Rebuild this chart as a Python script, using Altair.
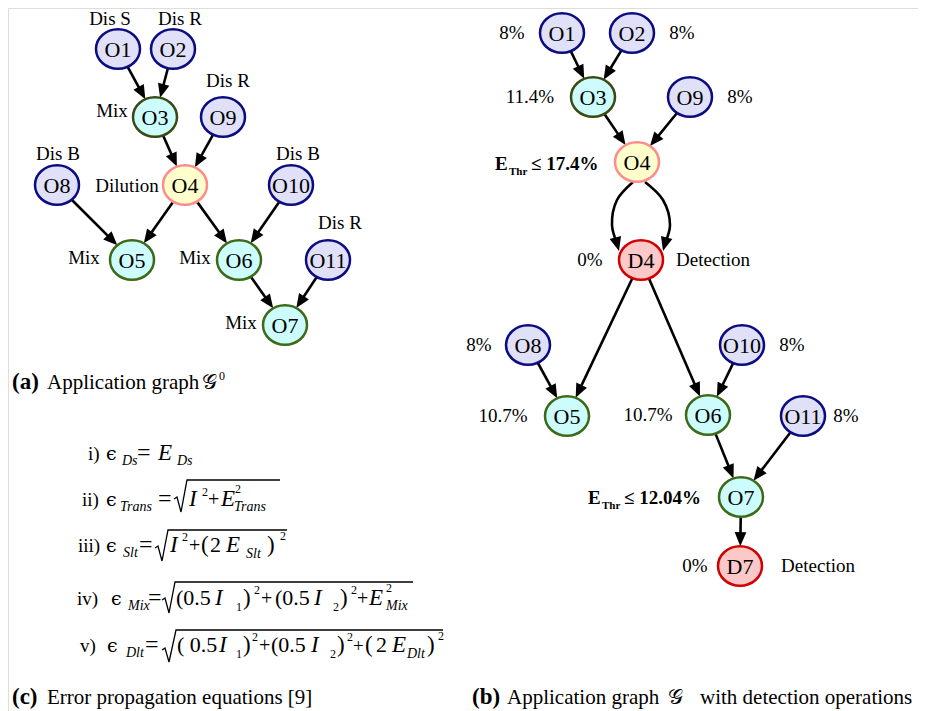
import math
import altair as alt
import pandas as pd

# ---------------- data ----------------
# graph (a): node names and positions
a_names = ["O1", "O2", "O3", "O9", "O8", "O4", "O10", "O5", "O6", "O11", "O7"]
a_x = [118, 173, 155, 223, 57, 185, 291, 132, 239, 328, 285]
a_y = [49, 49, 117, 117, 185, 185, 185, 260, 260, 260, 325]
a_edges = [("O1", "O3"), ("O2", "O3"), ("O3", "O4"), ("O9", "O4"), ("O8", "O5"),
           ("O4", "O5"), ("O4", "O6"), ("O10", "O6"), ("O6", "O7"), ("O11", "O7")]

# graph (b)
b_names = ["O1", "O2", "O3", "O9", "O4", "D4", "O8", "O10", "O5", "O6", "O11", "O7", "D7"]
b_x = [562, 632, 593, 690, 637, 641, 528, 742, 567, 708, 803, 741, 740]
b_y = [33, 33, 97, 97, 162, 260, 345, 345, 416, 415, 416, 497, 566]
b_edges = [("O1", "O3"), ("O2", "O3"), ("O3", "O4"), ("O9", "O4"), ("D4", "O5"),
           ("O8", "O5"), ("D4", "O6"), ("O10", "O6"), ("O6", "O7"), ("O11", "O7"), ("O7", "D7")]

# curved edges O4 -> D4 (control points)
arc_left_x = [633, 617, 612, 619]
arc_left_y = [182, 200, 225, 251]
arc_right_x = [645, 663, 670, 663]
arc_right_y = [182, 200, 225, 251]

# node kinds
kind_of = {"O1": "dis", "O2": "dis", "O8": "dis", "O9": "dis", "O10": "dis", "O11": "dis",
           "O3": "mix3", "O5": "mix", "O6": "mix", "O7": "mix",
           "O4": "dil", "D4": "det", "D7": "det"}
kind_fill = {"dis": "#e0e0f8", "mix3": "#ccfcfc", "mix": "#ccfcfc", "dil": "#ffffcc", "det": "#fcc8c8"}
kind_stroke = {"dis": "#0c0c82", "mix3": "#3b4a14", "mix": "#3d6a18", "dil": "#ff8c8c", "det": "#d00000"}

# labels (normal text)
lab_text = ["Dis S", "Dis R", "Dis R", "Mix", "Dis B", "Dilution", "Dis B", "Mix", "Mix", "Dis R", "Mix",
            "8%", "8%", "11.4%", "8%", "0%", "Detection", "8%", "8%", "10.7%", "10.7%", "8%", "0%", "Detection"]
lab_x = [110, 180, 228, 112, 58, 127, 298, 84, 195, 340, 241,
         512, 682, 530, 740, 590, 713, 479, 792, 503, 648, 846, 695, 818]
lab_y = [19, 19, 81, 111, 154, 186, 154, 258, 258, 223, 323,
         33, 33, 97, 97, 260, 260, 345, 345, 416, 415, 416, 566, 566]

# bold threshold labels
thr_text = ["E", "≤ 17.4%", "E", "≤ 12.04%"]
thr_x = [495, 531, 588, 624]
thr_y = [170, 170, 504, 504]
thr_sub_text = ["Thr", "Thr"]
thr_sub_x = [509, 602]
thr_sub_y = [175, 509]

# captions
cap_bold_text = ["(a)", "(c)", "(b)"]
cap_bold_x = [12, 12, 472]
cap_bold_y = [389, 704, 704]
cap_text = ["Application graph", "Error propagation equations [9]", "Application graph", "with detection operations"]
cap_x = [47, 47, 507, 700]
cap_y = [389, 704, 704, 704]
capG_text = ["𝒢", "𝒢", "0"]
capG_x = [202, 668, 219]
capG_y = [389, 704, 380]
capG_size = [21, 21, 12]

# equation symbols (epsilon) per line
eps_x = [106, 106, 106, 111, 107]
eps_y = [460, 506, 552, 605, 652]

# equations: (text, x, baseline y, size, italic)
eq_lines = [
    [("i)", 88, 460, 19, 0), ("Ds", 122, 465, 14, 1), ("=", 137, 460, 24, 0),
     ("E", 158, 460, 23, 1), ("Ds", 177, 465, 14, 1)],
    [("ii)", 82, 506, 19, 0), ("Trans", 120, 511, 14, 1), ("=", 158, 506, 24, 0),
     ("I", 189, 506, 23, 1), ("2", 202, 496, 12, 0), ("+", 208, 506, 20, 0), ("E", 221, 506, 23, 1),
     ("2", 235, 493, 12, 0), ("Trans", 234, 511, 14, 1)],
    [("iii)", 78, 552, 19, 0), ("Slt", 123, 557, 14, 1), ("=", 139, 552, 24, 0),
     ("I", 170, 552, 23, 1), ("2", 182, 541, 12, 0), ("+", 189, 552, 20, 0), ("(", 201, 552, 23, 0),
     ("2", 210, 552, 22, 0), ("E", 226, 552, 23, 1), ("Slt", 246, 558, 14, 1), (")", 267, 552, 23, 0),
     ("2", 280, 540, 12, 0)],
    [("iv)", 77, 605, 19, 0), ("Mix", 128, 610, 14, 1), ("=", 148, 605, 24, 0),
     ("(0.5", 176, 605, 22, 0), ("I", 215, 605, 23, 1), ("1", 236, 611, 12, 0), (")", 243, 605, 23, 0),
     ("2", 254, 594, 12, 0), ("+", 261, 605, 20, 0), ("(0.5", 275, 605, 22, 0), ("I", 314, 605, 23, 1),
     ("2", 333, 611, 12, 0), (")", 340, 605, 23, 0), ("2", 351, 594, 12, 0), ("+", 357, 605, 20, 0),
     ("E", 369, 605, 23, 1), ("2", 386, 592, 12, 0), ("Mix", 386, 610, 14, 1)],
    [("v)", 80, 652, 19, 0), ("Dlt", 126, 657, 14, 1), ("=", 145, 652, 24, 0),
     ("( 0.5", 177, 652, 22, 0), ("I", 219, 652, 23, 1), ("1", 236, 658, 12, 0), (")", 243, 652, 23, 0),
     ("2", 252, 641, 12, 0), ("+", 259, 652, 20, 0), ("(0.5", 271, 652, 22, 0), ("I", 311, 652, 23, 1),
     ("2", 330, 658, 12, 0), (")", 337, 652, 23, 0), ("2", 347, 641, 12, 0), ("+", 353, 652, 19, 0),
     ("(", 365, 652, 23, 0), ("2", 376, 652, 22, 0), ("E", 392, 652, 23, 1), ("Dlt", 407, 658, 14, 1),
     (")", 427, 652, 23, 0), ("2", 438, 640, 12, 0)],
]

# radical signs: x and y of the stroke, per equation ii..v
rad_x = [[174, 177, 181, 187, 280], [155, 158, 162, 168, 287], [162, 165, 169, 175, 413], [162, 165, 169, 176, 443]]
rad_y = [[499, 497, 512, 480, 480], [548, 546, 561, 530, 530], [600, 598, 613, 582, 582], [650, 648, 662, 630, 630]]

# ---------------- build tables ----------------
RX, RY = 22.0, 19.8  # node half-width / half-height
ARROW_BACK = 9.0


def boundary(ux, uy):
    return 1.0 / math.sqrt((ux / RX) ** 2 + (uy / RY) ** 2)


nodes_rows, edge_rows, head_rows = [], [], []
for names, xs, ys, edges in [(a_names, a_x, a_y, a_edges), (b_names, b_x, b_y, b_edges)]:
    pos = {}
    for n, x, y in zip(names, xs, ys):
        pos[n] = (x, y)
        k = kind_of[n]
        nodes_rows.append({"name": n, "x": x, "y": y, "fill": kind_fill[k], "stroke": kind_stroke[k]})
    for s, d in edges:
        (x1, y1), (x2, y2) = pos[s], pos[d]
        L = math.hypot(x2 - x1, y2 - y1)
        ux, uy = (x2 - x1) / L, (y2 - y1) / L
        r = boundary(ux, uy)
        sx, sy = x1 + ux * r, y1 + uy * r
        tx, ty = x2 - ux * r, y2 - uy * r
        edge_rows.append({"x": sx, "y": sy, "x2": tx - ux * ARROW_BACK, "y2": ty - uy * ARROW_BACK})
        head_rows.append({"x": tx, "y": ty, "angle": (math.degrees(math.atan2(-ux, uy)) + 360) % 360})

arc_rows = []
for aid, (xs, ys) in enumerate([(arc_left_x, arc_left_y), (arc_right_x, arc_right_y)]):
    ux, uy = xs[-1] - xs[-2], ys[-1] - ys[-2]
    L = math.hypot(ux, uy)
    ux, uy = ux / L, uy / L
    for i, (x, y) in enumerate(zip(xs, ys)):
        if i == len(xs) - 1:
            x, y = x - ux * ARROW_BACK, y - uy * ARROW_BACK
        arc_rows.append({"arc": aid, "o": i, "x": x, "y": y})
    head_rows.append({"x": xs[-1], "y": ys[-1], "angle": (math.degrees(math.atan2(-ux, uy)) + 360) % 360})

rad_rows = []
for rid, (xs, ys) in enumerate(zip(rad_x, rad_y)):
    for i, (x, y) in enumerate(zip(xs, ys)):
        rad_rows.append({"rad": rid, "o": i, "x": x, "y": y})

eq_rows = []
for line in eq_lines:
    for t, x, y, s, it in line:
        eq_rows.append({"t": t, "x": x, "y": y, "s": s, "it": it})
eq_df = pd.DataFrame(eq_rows)

nodes_df = pd.DataFrame(nodes_rows)
edges_df = pd.DataFrame(edge_rows)
heads_df = pd.DataFrame(head_rows)
arcs_df = pd.DataFrame(arc_rows)
rad_df = pd.DataFrame(rad_rows)
lab_df = pd.DataFrame({"t": lab_text, "x": lab_x, "y": lab_y})
thr_df = pd.DataFrame({"t": thr_text, "x": thr_x, "y": thr_y})
thrsub_df = pd.DataFrame({"t": thr_sub_text, "x": thr_sub_x, "y": thr_sub_y})
capb_df = pd.DataFrame({"t": cap_bold_text, "x": cap_bold_x, "y": cap_bold_y})
cap_df = pd.DataFrame({"t": cap_text, "x": cap_x, "y": cap_y})
capg_df = pd.DataFrame({"t": capG_text, "x": capG_x, "y": capG_y, "s": capG_size})
eps_df = pd.DataFrame({"t": ["ϵ"] * len(eps_x), "x": eps_x, "y": eps_y})

# ---------------- chart ----------------
W, H = 910, 703


def X(f="x"):
    return alt.X(f, type="quantitative", scale=alt.Scale(domain=[8, 8 + W], nice=False, zero=False), axis=None)


def Y(f="y"):
    return alt.Y(f, type="quantitative", scale=alt.Scale(domain=[8, 8 + H], nice=False, zero=False, reverse=True), axis=None)


SERIF = "Liberation Serif"
ARROW = "M0,0L-0.42,-1L0.42,-1Z"
ELLIPSE = "M-1,0A1,0.9,0,1,1,1,0A1,0.9,0,1,1,-1,0Z"

edges = alt.Chart(edges_df).mark_rule(color="black", strokeWidth=2.6).encode(
    x=X(), y=Y(), x2="x2:Q", y2="y2:Q")

arcs = alt.Chart(arcs_df).mark_line(color="black", strokeWidth=2.6, interpolate="catmull-rom").encode(
    x=X(), y=Y(), detail="arc:N", order="o:Q")

heads = alt.Chart(heads_df).mark_point(shape=ARROW, filled=True, color="black", size=784, opacity=1).encode(
    x=X(), y=Y(), angle=alt.Angle("angle:Q", scale=None))

nodes = alt.Chart(nodes_df).mark_point(shape=ELLIPSE, size=1936, filled=True, strokeWidth=2.5, opacity=1).encode(
    x=X(), y=Y(),
    fill=alt.Fill("fill:N", scale=None),
    stroke=alt.Stroke("stroke:N", scale=None))

node_text = alt.Chart(nodes_df).mark_text(font=SERIF, fontSize=22, color="black", align="center",
                                          baseline="middle", dy=1).encode(x=X(), y=Y(), text="name:N")

labels = alt.Chart(lab_df).mark_text(font=SERIF, fontSize=19, color="black", align="center",
                                     baseline="middle").encode(x=X(), y=Y(), text="t:N")

thr = alt.Chart(thr_df).mark_text(font=SERIF, fontSize=19, fontWeight="bold", color="black", align="left",
                                  baseline="alphabetic").encode(x=X(), y=Y(), text="t:N")
thrsub = alt.Chart(thrsub_df).mark_text(font=SERIF, fontSize=11, fontWeight="bold", color="black", align="left",
                                        baseline="alphabetic").encode(x=X(), y=Y(), text="t:N")

capb = alt.Chart(capb_df).mark_text(font=SERIF, fontSize=23, fontWeight="bold", color="black", align="left",
                                    baseline="alphabetic").encode(x=X(), y=Y(), text="t:N")
cap = alt.Chart(cap_df).mark_text(font=SERIF, fontSize=21, color="black", align="left",
                                  baseline="alphabetic").encode(x=X(), y=Y(), text="t:N")
capg = alt.Chart(capg_df).mark_text(font=SERIF, color="black", align="left",
                                    baseline="alphabetic").encode(x=X(), y=Y(), text="t:N",
                                                                  size=alt.Size("s:Q", scale=None))

eps = alt.Chart(eps_df).mark_text(font="DejaVu Serif", fontSize=19, fontWeight="normal", color="black",
                                  align="left", baseline="alphabetic").encode(x=X(), y=Y(), text="t:N")

eq_norm = alt.Chart(eq_df[eq_df["it"] == 0]).mark_text(font=SERIF, color="black", align="left",
                                                       baseline="alphabetic").encode(
    x=X(), y=Y(), text="t:N", size=alt.Size("s:Q", scale=None))
eq_ital = alt.Chart(eq_df[eq_df["it"] == 1]).mark_text(font=SERIF, fontStyle="italic", color="black", align="left",
                                                       baseline="alphabetic").encode(
    x=X(), y=Y(), text="t:N", size=alt.Size("s:Q", scale=None))

rads = alt.Chart(rad_df).mark_line(color="black", strokeWidth=1.3).encode(
    x=X(), y=Y(), detail="rad:N", order="o:Q")

chart = alt.layer(edges, arcs, heads, nodes, node_text, labels, thr, thrsub, capb, cap, capg,
                  eps, eq_norm, eq_ital, rads).properties(
    width=W, height=H, autosize=alt.AutoSizeParams(type="none"), padding=0
).configure_view(stroke=None).configure(background="white")

chart.save("out.html", embed_options={"renderer": "svg", "actions": False})
